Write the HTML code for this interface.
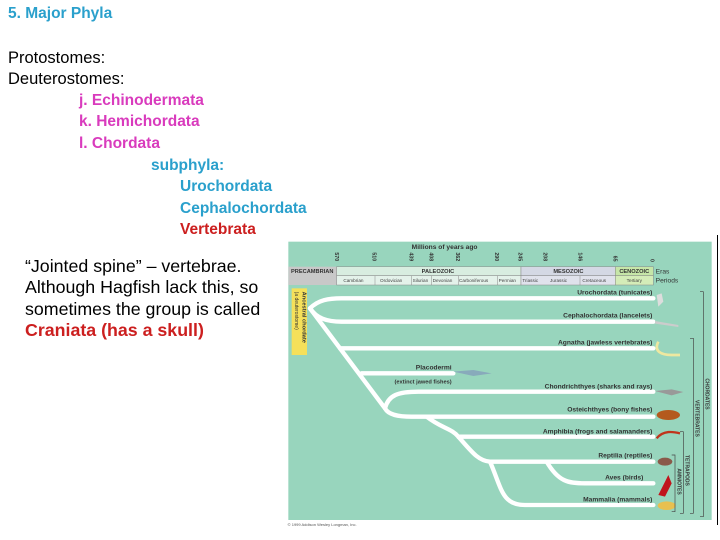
<!DOCTYPE html>
<html><head><meta charset="utf-8"><style>
body{margin:0;width:720px;height:540px;background:#fff;position:relative;overflow:hidden;font-family:"Liberation Sans",sans-serif}
.t{position:absolute;white-space:nowrap;font-size:15.5px;line-height:16px}
.b{font-weight:bold}
.teal{color:#2aa0cc}.mag{color:#d93bbd}.red{color:#cc1f1f}
.p{position:absolute;left:25px;font-size:17.8px;line-height:21.3px;top:256px;color:#000;white-space:nowrap}
</style></head><body>
<div class="t b teal" style="left:8px;top:6px">5. Major Phyla</div>
<div class="t" style="left:8px;top:50px;font-size:16.5px">Protostomes:</div>
<div class="t" style="left:8px;top:71px;font-size:16.5px">Deuterostomes:</div>
<div class="t b mag" style="left:79px;top:93px">j. Echinodermata</div>
<div class="t b mag" style="left:79px;top:114px">k. Hemichordata</div>
<div class="t b mag" style="left:79px;top:136px">l. Chordata</div>
<div class="t b teal" style="left:151px;top:158px">subphyla:</div>
<div class="t b teal" style="left:180px;top:179px">Urochordata</div>
<div class="t b teal" style="left:180px;top:201px">Cephalochordata</div>
<div class="t b red" style="left:180px;top:222px">Vertebrata</div>
<div class="p">“Jointed spine” – vertebrae.<br>Although Hagfish lack this, so<br>sometimes the group is called<br><b class="red">Craniata (has a skull)</b></div>
<div style="position:absolute;left:717px;top:235px;width:1px;height:290px;background:#000"></div>
<svg style="position:absolute;left:285px;top:235px" width="435" height="300" viewBox="0 0 1305 900" font-family="Liberation Sans,sans-serif">
<rect x="10" y="20" width="1270" height="835" fill="#98d5bd"/>
<rect x="10" y="95" width="145" height="55" fill="#c8c8c8"/>
<rect x="155" y="95" width="553" height="27" fill="#d8ede0" stroke="#888" stroke-width="1.5"/>
<rect x="155" y="122" width="553" height="28" fill="#e4f2ea" stroke="#888" stroke-width="1.5"/>
<rect x="708" y="95" width="283" height="27" fill="#d4d8e4" stroke="#888" stroke-width="1.5"/>
<rect x="708" y="122" width="283" height="28" fill="#e0e2ec" stroke="#888" stroke-width="1.5"/>
<rect x="991" y="95" width="114" height="27" fill="#c6e6a8" stroke="#888" stroke-width="1.5"/>
<rect x="991" y="122" width="114" height="28" fill="#d4ecb8" stroke="#888" stroke-width="1.5"/>
<g stroke="#888" stroke-width="1.5"><line x1="270" y1="122" x2="270" y2="150"/><line x1="380" y1="122" x2="380" y2="150"/><line x1="440" y1="122" x2="440" y2="150"/><line x1="520" y1="122" x2="520" y2="150"/><line x1="638" y1="122" x2="638" y2="150"/><line x1="885" y1="122" x2="885" y2="150"/></g>
<g font-size="20" font-weight="bold" fill="#333">
<text x="380" y="42">Millions of years ago</text>
<text x="18" y="114" font-size="17">PRECAMBRIAN</text>
<text x="410" y="114" font-size="17">PALEOZOIC</text>
<text x="805" y="114" font-size="17">MESOZOIC</text>
<text x="1003" y="114" font-size="17">CENOZOIC</text>
<text x="1112" y="116" font-weight="normal">Eras</text>
<text x="1112" y="143" font-weight="normal">Periods</text>
</g>
<g font-size="14" fill="#444"><text x="175" y="141">Cambrian</text><text x="285" y="141">Ordovician</text><text x="383" y="141">Silurian</text><text x="443" y="141">Devonian</text><text x="522" y="141">Carboniferous</text><text x="641" y="141">Permian</text><text x="712" y="141">Triassic</text><text x="795" y="141">Jurassic</text><text x="892" y="141">Cretaceous</text><text x="1025" y="141">Tertiary</text></g>
<g font-size="16" font-weight="bold" fill="#333">
<text transform="translate(150,52) rotate(90)">570</text><text transform="translate(263,52) rotate(90)">510</text><text transform="translate(373,52) rotate(90)">439</text><text transform="translate(433,52) rotate(90)">408</text><text transform="translate(513,52) rotate(90)">362</text><text transform="translate(630,52) rotate(90)">290</text><text transform="translate(700,52) rotate(90)">245</text><text transform="translate(775,52) rotate(90)">208</text><text transform="translate(880,52) rotate(90)">146</text><text transform="translate(985,62) rotate(90)">65</text><text transform="translate(1097,72) rotate(90)">0</text>
</g>
<rect x="20" y="160" width="46" height="200" fill="#f5e05a"/>
<text transform="translate(52,170) rotate(90)" font-size="17" font-weight="bold" fill="#333">Ancestral chordate</text>
<text transform="translate(30,170) rotate(90)" font-size="15" fill="#333">(a deuterostome)</text>
<g fill="none" stroke="#fff" stroke-width="13" stroke-linecap="round">
<path d="M75,220 C100,195 130,190 170,190 L1105,190"/>
<path d="M75,220 C95,250 125,260 170,260 L1105,260"/>
<path d="M75,220 L300,520"/>
<path d="M165,340 L1105,340"/>
<path d="M230,415 L505,415"/>
<path d="M300,520 C310,480 340,470 400,470 L1105,470"/>
<path d="M300,520 C310,540 340,545 380,545 L1105,545"/>
<path d="M425,545 C470,580 500,580 520,605 L1105,605"/>
<path d="M520,605 C560,650 580,678 615,680 L1105,680"/>
<path d="M615,680 C650,760 650,810 720,810 L1105,810"/>
<path d="M785,680 C820,740 850,745 900,745 L1105,745"/>
</g>
<g font-size="20" font-weight="bold" fill="#333" text-anchor="end">
<text x="1102" y="178">Urochordata (tunicates)</text>
<text x="1102" y="248">Cephalochordata (lancelets)</text>
<text x="1102" y="328">Agnatha (jawless vertebrates)</text>
<text x="500" y="403">Placodermi</text>
<text x="500" y="445" font-size="17">(extinct jawed fishes)</text>
<text x="1102" y="460">Chondrichthyes (sharks and rays)</text>
<text x="1102" y="530">Osteichthyes (bony fishes)</text>
<text x="1102" y="595">Amphibia (frogs and salamanders)</text>
<text x="1102" y="668">Reptilia (reptiles)</text>
<text x="1075" y="733">Aves (birds)</text>
<text x="1102" y="800">Mammalia (mammals)</text>
</g>
<g fill="#777"><path d="M1115,180 l15,-5 l5,25 l-15,15z" fill="#ddd"/><path d="M1110,258 l70,12 l0,6 l-70,-10z" fill="#ccc"/>
<path d="M1120,320 c-15,30 10,40 40,40 l25,0" stroke="#eee8a0" stroke-width="8" fill="none"/>
<path d="M505,410 l60,-5 l55,10 l-55,8z" fill="#8ab"/>
<path d="M1110,468 l50,-5 l35,8 l-35,10z" fill="#999"/>
<ellipse cx="1150" cy="540" rx="35" ry="15" fill="#b45a1e"/>
<path d="M1115,610 c20,-25 50,-20 70,-15" stroke="#c0341c" stroke-width="7" fill="none"/>
<ellipse cx="1140" cy="680" rx="22" ry="12" fill="#8a5a4a"/>
<path d="M1120,780 l30,-60 l10,25 l-20,40z" fill="#c0141c"/>
<ellipse cx="1145" cy="812" rx="27" ry="13" fill="#e8c050"/></g>
<g stroke="#444" stroke-width="2" fill="none">
<path d="M1245,170 L1255,170 L1255,845 L1245,845"/>
<path d="M1215,310 L1225,310 L1225,835 L1215,835"/>
<path d="M1185,590 L1195,590 L1195,835 L1185,835"/>
<path d="M1160,660 L1170,660 L1170,830 L1160,830"/>
</g>
<g font-size="15" font-weight="bold" fill="#333">
<text transform="translate(1262,430) rotate(90)">CHORDATES</text>
<text transform="translate(1232,495) rotate(90)">VERTEBRATES</text>
<text transform="translate(1202,660) rotate(90)">TETRAPODS</text>
<text transform="translate(1177,700) rotate(90)">AMNIOTES</text>
</g>
<text x="8" y="873" font-size="12" fill="#555">© 1999 Addison Wesley Longman, Inc.</text>
</svg>
</body></html>
